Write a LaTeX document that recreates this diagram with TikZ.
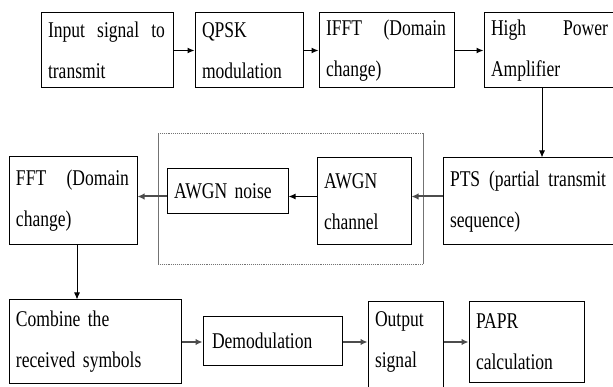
\documentclass[tikz,border=0pt]{standalone}
\usepackage{fontspec}
\setmainfont{Liberation Serif}[FakeStretch=0.78]
\usetikzlibrary{arrows.meta}
\setlength{\parindent}{0pt}

\tikzset{
  blk/.style={draw, line width=1pt, inner xsep=7pt, inner ysep=0pt, align=left,
    font=\fontsize{22.5}{41}\selectfont},
  arr/.style={-{Latex[length=7pt,width=6pt]}, line width=1.2pt},
  garr/.style={-{Latex[length=7pt,width=6.5pt]}, line width=2pt, draw=black!70},
}
% a line stretched over a given width (words split by \hfill)
\newcommand{\spreadline}[2]{\hbox to #1{#2}}

\begin{document}
\begin{tikzpicture}[x=1pt, y=-1pt]
	\useasboundingbox (0,0) rectangle (613,387);
	\clip (0,0) rectangle (613,387);
	% transmitter
	\node[blk, text width=118pt, minimum width=132pt, minimum height=75pt] (inp) at (107,50.5) {\spreadline{117pt}{Input\hfill signal\hfill to}\\transmit};
	\node[blk, text width=94pt, minimum width=108pt, minimum height=75pt] (qpsk) at (249,50.5) {QPSK\\modulation};
	\node[blk, text width=121pt, minimum width=135pt, minimum height=75pt] (ifft) at (386.5,50.5) {\spreadline{120pt}{IFFT\hfill (Domain}\\change)};
	\node[blk, text width=118pt, minimum width=132pt, minimum height=75pt] (hpa) at (550,50.5) {\spreadline{117pt}{High\hfill Power}\\Amplifier};
	% channel
	\node[blk, text width=159pt, minimum width=173pt, minimum height=87pt] (pts) at (529.5,201.5) {\spreadline{156pt}{PTS\hfill (partial\hfill transmit}\\sequence)};
	\node[blk, text width=80pt, minimum width=94pt, minimum height=87pt] (chan) at (364,201.5) {AWGN\\channel};
	\node[blk, text width=107pt, minimum width=121pt, minimum height=45pt] (noise) at (227.5,191.5) {AWGN noise};
	\node[blk, text width=114pt, minimum width=128pt, minimum height=88pt] (fft) at (73,201) {\spreadline{113pt}{FFT\hfill (Domain}\\change)};
	\draw[black!55, densely dotted, line width=0.9pt] (158,133.5) -- (423,133.5) (158,264.5) -- (423,264.5);
	\draw[black!55, line width=0.6pt] (158,133.5) -- (158,264.5) (423,133.5) -- (423,264.5);
	% receiver
	\node[blk, text width=158pt, minimum width=172pt, minimum height=83pt] (comb) at (95,341.5) {Combine the\\received symbols};
	\node[blk, text width=121pt, minimum width=137pt, minimum height=48pt, inner xsep=9pt] (demod) at (272.5,341) {Demodulation};
	\node[blk, text width=61pt, minimum width=75pt, minimum height=87pt] (outp) at (405.5,345.5) {Output\\signal\rule[-12pt]{0pt}{1pt}};
	\node[blk, text width=101pt, minimum width=115pt, minimum height=80pt] (papr) at (526.5,342) {PAPR\\calculation};

	\coordinate (vx1) at (542,0);
	\coordinate (vx2) at (77,0);
	\coordinate (lvl) at (0,196.5);
	\coordinate (lvlc) at (0,342);

	\draw[arr] (inp) -- (qpsk);
	\draw[arr] (qpsk) -- (ifft);
	\draw[arr] (ifft) -- (hpa);
	\draw[arr, line width=1pt] (hpa.south -| vx1) -- (pts.north -| vx1);
	\draw[garr] (pts.west |- lvl) -- (chan.east |- lvl);
	\draw[arr] (chan.west |- lvl) -- (noise.east |- lvl);
	\draw[garr] (noise.west |- lvl) -- (fft.east |- lvl);
	\draw[arr, line width=1pt] (fft.south -| vx2) -- (comb.north -| vx2);
	\draw[garr] (comb.east |- lvlc) -- (demod.west |- lvlc);
	\draw[garr] (demod.east |- lvlc) -- (outp.west |- lvlc);
	\draw[garr] (outp.east |- lvlc) -- (papr.west |- lvlc);
\end{tikzpicture}
\end{document}
